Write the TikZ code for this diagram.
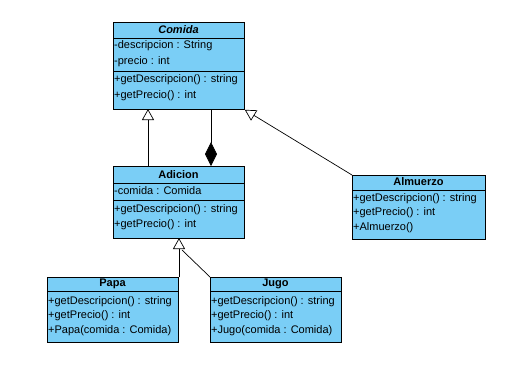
\documentclass[tikz,border=0pt]{standalone}
\usepackage{fontspec}
\setmainfont{Liberation Sans}
\usetikzlibrary{arrows.meta}
\definecolor{classfill}{RGB}{122,206,246}
\tikzset{
  classbox/.style={draw=black, line width=0.8pt, fill=classfill, anchor=north west, inner sep=0pt},
  member/.style={anchor=west, inner sep=0pt, font=\fontsize{11}{13}\selectfont},
  ctitle/.style={inner sep=0pt, font=\fontsize{11}{13}\selectfont\bfseries},
  sep/.style={line width=0.8pt},
  link/.style={line width=0.7pt},
  inherit/.style={link, -{Triangle[open, length=11pt, width=12pt]}},
  compose/.style={link, {Diamond[length=24pt, width=12pt]}-},
}
\begin{document}
\begin{tikzpicture}[x=1pt, y=-1pt]
\useasboundingbox (0,0) rectangle (528,368);

% Comida
\node[classbox, minimum width=131pt, minimum height=87pt] (comida) at (113,22) {};
\draw[sep] (113,38) -- (244,38);
\draw[sep] (113,71) -- (244,71);
\node[ctitle, font=\fontsize{11}{13}\selectfont\bfseries\itshape] (comidaT) at (178.5,30) {Comida};
\node[member] (comidaA1) at (114,46) {-descripcion : String};
\node[member] (comidaA2) at (114,62) {-precio : int};
\node[member] (comidaM1) at (114,80) {+getDescripcion() : string};
\node[member] (comidaM2) at (114,96) {+getPrecio() : int};

% Adicion
\node[classbox, minimum width=131pt, minimum height=72pt] (adicion) at (113,166) {};
\draw[sep] (113,183) -- (244,183);
\draw[sep] (113,200) -- (244,200);
\node[ctitle] (adicionT) at (178.5,174.5) {Adicion};
\node[member] (adicionA1) at (114,191) {-comida : Comida};
\node[member] (adicionM1) at (114,210) {+getDescripcion() : string};
\node[member] (adicionM2) at (114,225) {+getPrecio() : int};

% Almuerzo
\node[classbox, minimum width=133pt, minimum height=64pt] (almuerzo) at (352,175) {};
\draw[sep] (352,190) -- (485,190);
\node[ctitle] (almuerzoT) at (418.5,182) {Almuerzo};
\node[member] (almuerzoM1) at (353,199) {+getDescripcion() : string};
\node[member] (almuerzoM2) at (353,213) {+getPrecio() : int};
\node[member] (almuerzoM3) at (353,228) {+Almuerzo()};

% Papa
\node[classbox, minimum width=131pt, minimum height=65pt] (papa) at (47,277) {};
\draw[sep] (47,291) -- (178,291);
\node[ctitle] (papaT) at (112.5,284) {Papa};
\node[member] (papaM1) at (48,302) {+getDescripcion() : string};
\node[member] (papaM2) at (48,316) {+getPrecio() : int};
\node[member] (papaM3) at (48,331) {+Papa(comida : Comida)};

% Jugo
\node[classbox, minimum width=131pt, minimum height=65pt] (jugo) at (210,277) {};
\draw[sep] (210,291) -- (341,291);
\node[ctitle] (jugoT) at (275.5,284) {Jugo};
\node[member] (jugoM1) at (211,302) {+getDescripcion() : string};
\node[member] (jugoM2) at (211,316) {+getPrecio() : int};
\node[member] (jugoM3) at (211,331) {+Jugo(comida : Comida)};

% connector end points on the class borders
\coordinate (cA) at (148,109);
\coordinate (aC) at (148,166);
\coordinate (cD) at (211,109);
\coordinate (aD) at (211,166);
\coordinate (pA) at (179,238);
\coordinate (pTop) at (179,277);
\coordinate (triBase) at (182,250);

% relations
\draw[inherit] (aC) -- (cA);
\draw[compose] (aD) -- (cD);
\draw[inherit] (almuerzo.north west) -- (comida.south east);
\draw[inherit] (pTop) -- (pA);
\draw[link] (jugo.north west) -- (triBase);
\end{tikzpicture}
\end{document}
